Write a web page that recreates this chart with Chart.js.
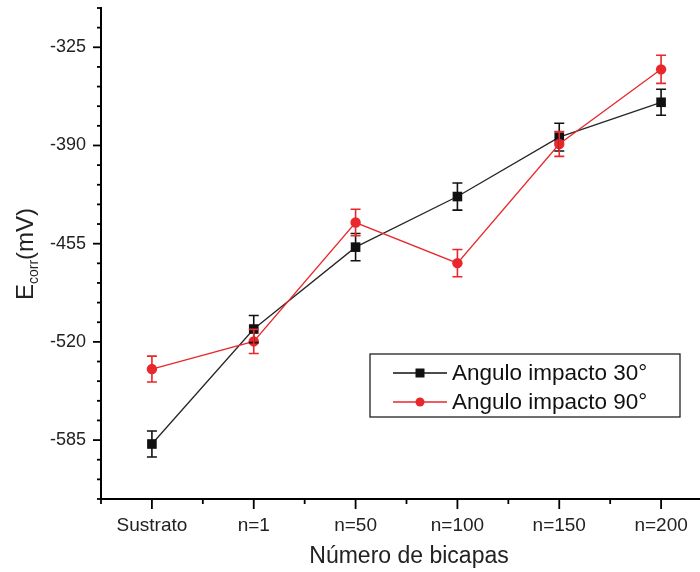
<!DOCTYPE html>
<html>
<head>
<meta charset="utf-8">
<script src="https://cdn.jsdelivr.net/npm/chart.js@4.4.1/dist/chart.umd.min.js"></script>
<style>
  html, body { margin: 0; padding: 0; background: #fff; overflow: hidden; }
  #wrap { width: 720px; height: 572px; }
</style>
</head>
<body>
<div id="wrap"><canvas id="myChart"></canvas></div>
<script>
// data
var categories = ['Sustrato', 'n=1', 'n=50', 'n=100', 'n=150', 'n=200'];
var angulo30 = [-587.6, -511.5, -457.3, -423.8, -384.5, -361.4];
var angulo90 = [-538.0, -519.7, -441.0, -467.9, -389.0, -339.6];
var error30 = [8.6, 9.0, 9.0, 9.0, 9.2, 8.6];
var error90 = [8.6, 8.0, 8.8, 9.0, 8.2, 9.3];
var seriesNames = ['Angulo impacto 30°', 'Angulo impacto 90°'];
var yLabelTicks = [-325, -390, -455, -520, -585];
var yMin = -624, yMax = -299, yStep = 13;

var FONT = '"Liberation Sans", Arial, sans-serif';
var BLACK = '#111';
var RED = '#e8282b';

function points(vals) {
  return vals.map(function (v, i) { return { x: i, y: v }; });
}

// error bars, tick marks, legend and axis titles
var extras = {
  id: 'extras',
  afterDatasetsDraw: function (chart) {
    var ctx = chart.ctx;
    var xs = chart.scales.x, ys = chart.scales.y;
    var sets = [[angulo30, error30, BLACK], [angulo90, error90, RED]];
    ctx.save();
    sets.forEach(function (s) {
      ctx.strokeStyle = s[2];
      ctx.lineWidth = 1.6;
      s[0].forEach(function (v, i) {
        var x = xs.getPixelForValue(i);
        var t = ys.getPixelForValue(v + s[1][i]);
        var b = ys.getPixelForValue(v - s[1][i]);
        ctx.beginPath();
        ctx.moveTo(x, t); ctx.lineTo(x, b);
        ctx.moveTo(x - 5, t); ctx.lineTo(x + 5, t);
        ctx.moveTo(x - 5, b); ctx.lineTo(x + 5, b);
        ctx.stroke();
      });
    });
    ctx.restore();
  },
  afterDraw: function (chart) {
    var ctx = chart.ctx;
    var xs = chart.scales.x, ys = chart.scales.y;
    var a = chart.chartArea;
    ctx.save();
    ctx.strokeStyle = '#000';
    ctx.lineWidth = 1.8;
    // y ticks
    for (var v = yMin; v <= yMax; v += yStep) {
      var y = ys.getPixelForValue(v);
      var len = (v % 65 === 0) ? 8 : 4;
      ctx.beginPath(); ctx.moveTo(a.left, y); ctx.lineTo(a.left - len, y); ctx.stroke();
    }
    // x ticks
    for (var k = -1; k <= 11; k++) {
      var x = xs.getPixelForValue(k / 2);
      var l = (k % 2 === 0) ? 10 : 5;
      ctx.beginPath(); ctx.moveTo(x, a.bottom); ctx.lineTo(x, a.bottom + l); ctx.stroke();
    }

    // legend
    ctx.lineWidth = 1.3;
    ctx.strokeStyle = '#222';
    ctx.strokeRect(370, 354, 310, 63);
    var rows = [373, 402];
    ctx.font = '22.5px ' + FONT;
    ctx.textBaseline = 'middle';
    ctx.textAlign = 'left';
    rows.forEach(function (ry, i) {
      var col = i === 0 ? BLACK : RED;
      ctx.strokeStyle = col;
      ctx.lineWidth = 1.3;
      ctx.beginPath(); ctx.moveTo(393, ry); ctx.lineTo(447, ry); ctx.stroke();
      ctx.fillStyle = col;
      if (i === 0) {
        ctx.fillRect(415.5, ry - 4.5, 9, 9);
      } else {
        ctx.beginPath(); ctx.arc(420, ry, 4.5, 0, Math.PI * 2); ctx.fill();
      }
      ctx.fillStyle = '#111';
      ctx.fillText(seriesNames[i], 452, ry + 1);
    });

    // x title
    ctx.fillStyle = '#222';
    ctx.font = '23px ' + FONT;
    ctx.textAlign = 'center';
    ctx.fillText('Número de bicapas', 409, 557);

    // y title with subscript
    ctx.translate(26, 254);
    ctx.rotate(-Math.PI / 2);
    var big = '24px ' + FONT, small = '14px ' + FONT;
    ctx.font = big; var w1 = ctx.measureText('E').width;
    var w3 = ctx.measureText('(mV)').width;
    ctx.font = small; var w2 = ctx.measureText('corr').width;
    var sx = -(w1 + w2 + w3) / 2;
    ctx.textAlign = 'left';
    ctx.font = big; ctx.fillText('E', sx, 0);
    ctx.font = small; ctx.fillText('corr', sx + w1, 8);
    ctx.font = big; ctx.fillText('(mV)', sx + w1 + w2, 0);
    ctx.restore();
  }
};

new Chart(document.getElementById('myChart'), {
  type: 'line',
  data: {
    datasets: [
      {
        label: seriesNames[1],
        data: points(angulo90),
        borderColor: RED,
        backgroundColor: RED,
        borderWidth: 1.3,
        pointStyle: 'circle',
        pointRadius: 5.2,
        pointBorderWidth: 0,
        tension: 0
      },
      {
        label: seriesNames[0],
        data: points(angulo30),
        borderColor: '#262626',
        backgroundColor: BLACK,
        borderWidth: 1.3,
        pointStyle: 'rect',
        pointRadius: 6.8,
        pointBorderWidth: 0,
        tension: 0
      }
    ]
  },
  options: {
    responsive: true,
    maintainAspectRatio: false,
    animation: false,
    layout: { padding: { left: 0, top: 8, right: 8, bottom: 0 } },
    plugins: { legend: { display: false }, tooltip: { enabled: false } },
    scales: {
      x: {
        type: 'linear',
        min: -0.5,
        max: 5.5,
        afterFit: function (s) { s.height = 73; s.paddingLeft = 0; s.paddingRight = 0; },
        border: { display: true, color: '#000', width: 2 },
        grid: { display: true, drawOnChartArea: false, drawTicks: true, tickLength: 9, color: 'rgba(0,0,0,0)' },
        ticks: {
          stepSize: 0.5,
          autoSkip: false,
          maxRotation: 0,
          padding: 6,
          color: '#222',
          font: { family: FONT, size: 19 },
          callback: function (v) { return Number.isInteger(v) ? categories[v] : ''; }
        }
      },
      y: {
        min: yMin,
        max: yMax,
        afterFit: function (s) { s.width = 101; s.paddingTop = 0; s.paddingBottom = 0; },
        border: { display: true, color: '#000', width: 2 },
        grid: { display: true, drawOnChartArea: false, drawTicks: true, tickLength: 8, color: 'rgba(0,0,0,0)' },
        ticks: {
          stepSize: yStep,
          autoSkip: false,
          padding: 7,
          color: '#222',
          font: { family: FONT, size: 18 },
          callback: function (v) { return yLabelTicks.indexOf(v) >= 0 ? String(v) : ''; }
        }
      }
    }
  },
  plugins: [extras]
});
</script>
</body>
</html>
